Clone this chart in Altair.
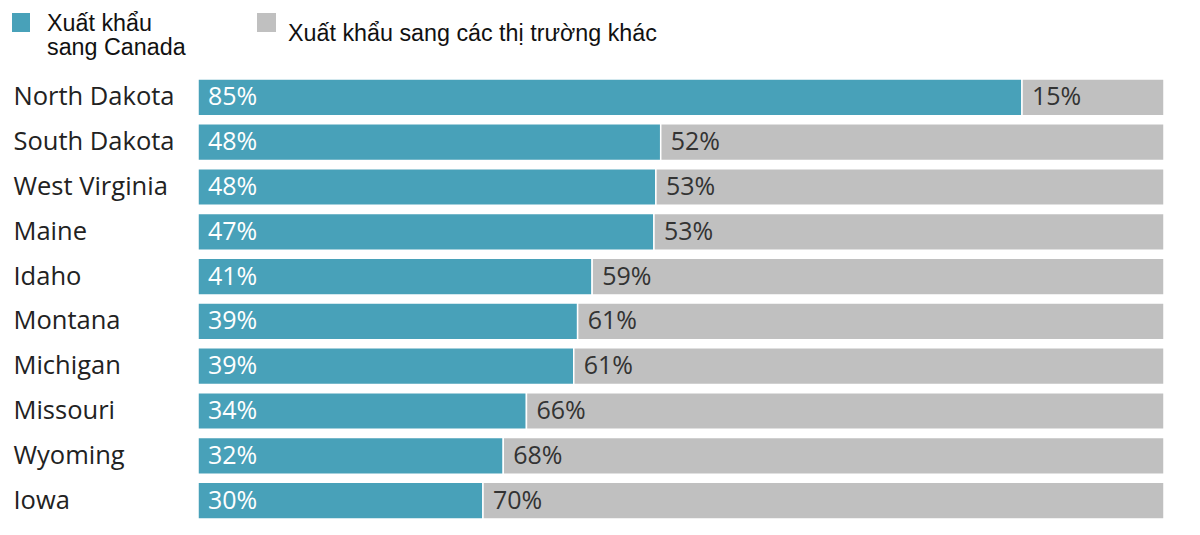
import altair as alt
import pandas as pd

states = ["North Dakota", "South Dakota", "West Virginia", "Maine", "Idaho",
          "Montana", "Michigan", "Missouri", "Wyoming", "Iowa"]
canada_share = [0.853, 0.479, 0.474, 0.472, 0.408, 0.393, 0.389, 0.340, 0.316, 0.295]
canada_label = ["85%", "48%", "48%", "47%", "41%", "39%", "39%", "34%", "32%", "30%"]
other_label = ["15%", "52%", "53%", "53%", "59%", "61%", "61%", "66%", "68%", "70%"]
series = ["Xuất khẩu sang Canada", "Xuất khẩu sang các thị trường khác"]
colors = ["#48a1b9", "#c0c0c0"]

rows = []
for i, s in enumerate(states):
    c = canada_share[i]
    rows.append({"state": s, "series": series[0], "order": 0, "start": 0.0, "end": c,
                 "label": canada_label[i]})
    rows.append({"state": s, "series": series[1], "order": 1, "start": c, "end": 1.0,
                 "label": other_label[i]})
df = pd.DataFrame(rows)

y_enc = alt.Y("state:N", sort=states,
              scale=alt.Scale(paddingInner=0.18, paddingOuter=0.09),
              axis=alt.Axis(title=None, domain=False, ticks=False, labelAlign="left",
                            labelPadding=185, labelFont="Open Sans", labelFontSize=25.5,
                            labelColor="#222222", labelLimit=300))
x_scale = alt.Scale(domain=[0, 1], nice=False, zero=True)

base = alt.Chart(df)

bars = base.mark_bar(stroke="white", strokeWidth=1.5).encode(
    x=alt.X("start:Q", scale=x_scale, axis=None),
    x2="end:Q",
    y=y_enc,
    color=alt.Color("series:N", scale=alt.Scale(domain=series, range=colors), legend=None),
)

labels = base.mark_text(align="left", baseline="middle", dx=10, font="Open Sans",
                        fontSize=25).encode(
    x=alt.X("start:Q", scale=x_scale, axis=None),
    y=alt.Y("state:N", sort=states),
    text="label:N",
    color=alt.Color("series:N", scale=alt.Scale(domain=series, range=["white", "#333333"]),
                    legend=None),
)

one = alt.Data(values=[{"a": 1}])
leg_sq1 = alt.Chart(one).mark_rect(color=colors[0]).encode(
    x=alt.value(-186), x2=alt.value(-168), y=alt.value(-62), y2=alt.value(-43))
leg_sq2 = alt.Chart(one).mark_rect(color=colors[1]).encode(
    x=alt.value(59), x2=alt.value(78), y=alt.value(-62), y2=alt.value(-43))
leg_t1 = alt.Chart(one).mark_text(align="left", baseline="alphabetic", font="Liberation Sans",
                                  fontSize=23.3, lineBreak="\n", lineHeight=24,
                                  color="#111111").encode(
    x=alt.value(-151), y=alt.value(-44), text=alt.value("Xuất khẩu\nsang Canada"))
leg_t2 = alt.Chart(one).mark_text(align="left", baseline="alphabetic", font="Liberation Sans",
                                  fontSize=23.3, color="#111111").encode(
    x=alt.value(90), y=alt.value(-34), text=alt.value(series[1]))

chart = alt.layer(bars, labels, leg_sq1, leg_sq2, leg_t1, leg_t2).resolve_scale(
    color="independent"
).properties(
    width=966, height=448,
    autosize=alt.AutoSizeParams(type="none"),
    padding={"left": 190, "top": 67, "right": 20, "bottom": 4},
).configure_view(stroke=None)

chart.save("out.html", embed_options={"renderer": "svg", "actions": False})
